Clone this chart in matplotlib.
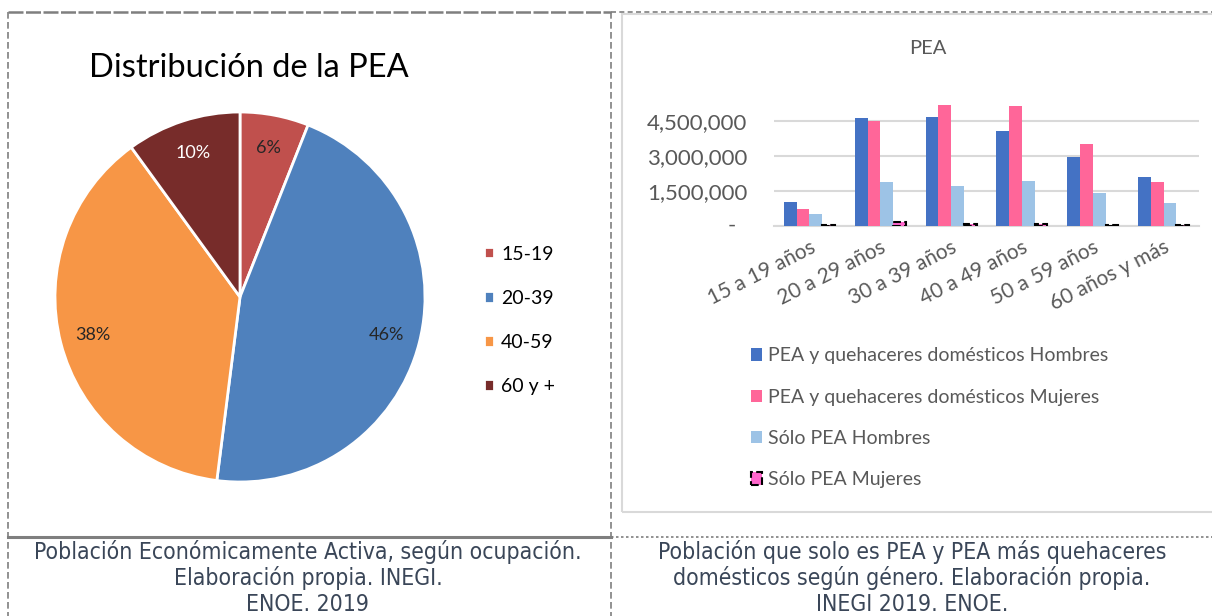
import matplotlib
matplotlib.use("Agg")
import matplotlib.pyplot as plt
from matplotlib.lines import Line2D
from matplotlib.patches import Rectangle, Patch
import numpy as np

# ---------------- data ----------------
pie_labels = ["15-19", "20-39", "40-59", "60 y +"]
pie_values = [6, 46, 38, 10]
pie_colors = ["#c0504d", "#4f81bd", "#f79646", "#772c2a"]

categories = ["15 a 19 años", "20 a 29 años", "30 a 39 años",
              "40 a 49 años", "50 a 59 años", "60 años y más"]
pea_qd_hombres = [1030000, 4630000, 4690000, 4090000, 2960000, 2100000]
pea_qd_mujeres = [730000, 4500000, 5170000, 5140000, 3530000, 1890000]
solo_pea_hombres = [510000, 1870000, 1710000, 1930000, 1400000, 1000000]
solo_pea_mujeres = [40000, 170000, 90000, 80000, 50000, 40000]
series_names = ["PEA y quehaceres domésticos Hombres",
                "PEA y quehaceres domésticos Mujeres",
                "Sólo PEA Hombres", "Sólo PEA Mujeres"]
yticks = [0, 1500000, 3000000, 4500000]
ytick_labels = ["-", "1,500,000", "3,000,000", "4,500,000"]

caption_left = "Población Económicamente Activa, según ocupación.\nElaboración propia. INEGI.\nENOE. 2019"
caption_right = "Población que solo es PEA y PEA más quehaceres\ndomésticos según género. Elaboración propia.\nINEGI 2019. ENOE."

W, H = 1212, 616
fig = plt.figure(figsize=(W / 100, H / 100), dpi=100)
fig.patch.set_facecolor("white")

def fx(x):
    return x / W

def fy(y):
    return 1 - y / H

# ---------------- borders ----------------
def line(x0, y0, x1, y1, **kw):
    fig.add_artist(Line2D([fx(x0), fx(x1)], [fy(y0), fy(y1)], **kw))

gray = "#7f7f7f"
line(8, 12, 611, 12, color=gray, lw=1.8, ls=(0, (6, 1)))
line(611, 12, 1212, 12, color=gray, lw=1.2, ls=(0, (3, 2)))
line(8, 12, 8, 616, color=gray, lw=1.2, ls=(0, (4, 2)))
line(611, 12, 611, 616, color=gray, lw=1.2, ls=(0, (4, 2)))
line(8, 537, 611, 537, color=gray, lw=2.2)
line(611, 537, 1212, 537, color=gray, lw=1.2, ls=(0, (1.5, 1.5)))
# right chart frame
fig.add_artist(Rectangle((fx(622), fy(512)), fx(600), (512 - 14) / H,
                         transform=fig.transFigure, fill=False,
                         edgecolor="#d9d9d9", lw=1.5))

# ---------------- pie ----------------
axp = fig.add_axes([fx(55), fy(482), fx(370), 370 / H])
wedges, texts, autotexts = axp.pie(
    pie_values, colors=pie_colors, startangle=90, counterclock=False,
    autopct="%1.0f%%", pctdistance=0.82,
    wedgeprops=dict(edgecolor="white", linewidth=2),
    textprops=dict(fontsize=13, family=["Lato", "DejaVu Sans"], color="#262626"))
autotexts[3].set_color("white")
axp.set_xlim(-1, 1)
axp.set_ylim(-1, 1)
axp.set_aspect("equal")

fig.text(fx(249), fy(68), "Distribución de la PEA", ha="center", va="center",
         fontsize=23.5, family=["Lato", "DejaVu Sans"], color="black")

fig.legend(wedges, pie_labels, loc="upper left",
           bbox_to_anchor=(fx(466), fy(228)), frameon=False,
           prop=dict(family=["Lato", "DejaVu Sans"], size=14),
           handlelength=0.55, handleheight=0.55, handletextpad=0.35,
           labelspacing=1.4)

# ---------------- bar chart ----------------
axb = fig.add_axes([fx(774), fy(226), fx(425), 126 / H])
x = np.arange(len(categories))
bw = 0.18
series = [pea_qd_hombres, pea_qd_mujeres, solo_pea_hombres, solo_pea_mujeres]
colors = ["#4472c4", "#ff6699", "#9dc3e6", "#ff66cc"]
for i, (vals, c) in enumerate(zip(series, colors)):
    off = (i - 1.5) * bw
    if i == 3:
        axb.bar(x + off, vals, bw, color=c, edgecolor="black",
                linewidth=1.5, linestyle="--", zorder=3)
    else:
        axb.bar(x + off, vals, bw, color=c, zorder=3)

axb.set_xlim(-0.5, len(categories) - 0.5)
axb.set_ylim(0, 5400000)
axb.set_yticks(yticks)
axb.set_yticklabels([""] + ytick_labels[1:])
axb.set_xticks(x)
axb.set_xticklabels(categories, rotation=27, ha="right", va="top",
                    rotation_mode="anchor")
for lbl in axb.get_yticklabels():
    lbl.set_family(["Lato", "DejaVu Sans"])
    lbl.set_fontsize(16)
    lbl.set_color("#595959")
for lbl in axb.get_xticklabels():
    lbl.set_family(["Lato", "DejaVu Sans"])
    lbl.set_fontsize(15)
    lbl.set_color("#595959")
axb.tick_params(axis="y", length=0, pad=19)
axb.tick_params(axis="x", length=0, pad=8)
axb.grid(axis="y", color="#d9d9d9", lw=1.5, zorder=0)
for s in ["top", "right", "left"]:
    axb.spines[s].set_visible(False)
axb.spines["bottom"].set_color("#d9d9d9")
axb.spines["bottom"].set_linewidth(1.5)
axb.set_facecolor("none")

# zero label ("-") placed a little further left, as in an accounting format
fig.text(fx(736), fy(226), ytick_labels[0], ha="right", va="center",
         fontsize=16, family=["Lato", "DejaVu Sans"], color="#595959")

fig.text(fx(928), fy(48), "PEA", ha="center", va="center", fontsize=14.5,
         family=["Lato", "DejaVu Sans"], color="#595959")

handles = [Patch(facecolor=colors[0]), Patch(facecolor=colors[1]),
           Patch(facecolor=colors[2]),
           Patch(facecolor=colors[3], edgecolor="black", linestyle="--", linewidth=1.5)]
fig.legend(handles, series_names, loc="upper left",
           bbox_to_anchor=(fx(733), fy(330)), frameon=False,
           prop=dict(family=["Lato", "DejaVu Sans"], size=14),
           labelcolor="#595959",
           handlelength=0.6, handleheight=0.6, handletextpad=0.3,
           labelspacing=1.25)

# ---------------- captions ----------------
cap_kw = dict(ha="center", va="top", fontsize=16.5, family=["DejaVu Sans"],
              fontstretch="condensed", color="#3a4658", linespacing=1.13)
fig.text(fx(308), fy(540), caption_left, **cap_kw)
fig.text(fx(912), fy(540), caption_right, **cap_kw)

fig.savefig("out.png", dpi=100, facecolor="white")
